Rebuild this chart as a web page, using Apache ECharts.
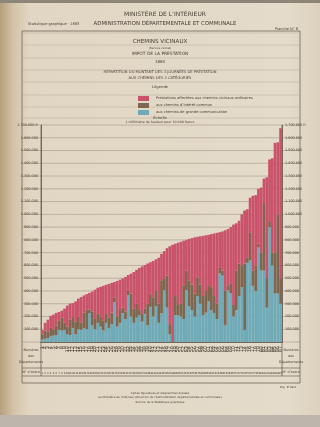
<!DOCTYPE html>
<html>
<head>
<meta charset="utf-8">
<script src="https://cdn.jsdelivr.net/npm/echarts@6/dist/echarts.min.js"></script>
<style>
html, body { margin: 0; padding: 0; background: #e2d8c5; }
#chart { width: 320px; height: 427px; }
</style>
</head>
<body>
<div id="chart"></div>
<script>
// numéros d'ordre des départements (classés par montant total croissant)
const ordres = ['1','2','3','4','5','6','7','8','9','10','11','12','13','14','15','16','17','18','19','20',
  '21','22','23','24','25','26','27','28','29','30','31','32','33','34','35','36','37','38','39','40',
  '41','42','43','44','45','46','47','48','49','50','51','52','53','54','55','56','57','58','59','60',
  '61','62','63','64','65','66','67','68','69','70','71','72','73','74','75','76','77','78','79','80',
  '81','82','83','84','85','86','87'];

// montants en milliers de francs
const grandeCommunication = [20,25,30,45,50,55,95,90,95,60,55,110,60,100,95,110,100,225,130,100,
  150,120,90,150,110,140,312,120,150,225,180,367,200,150,190,210,160,220,130,275,
  200,280,150,225,405,270,60,0,210,210,200,180,405,280,250,200,360,300,210,230,
  320,250,225,180,540,520,130,405,380,200,250,360,430,95,620,640,440,400,740,560,
  560,270,900,600,380,380,300];
const interetCommun = [40,65,50,65,50,75,75,100,55,60,120,85,100,100,55,120,150,30,110,80,
  75,80,80,70,80,90,38,80,100,45,60,33,180,110,110,40,60,40,170,100,
  150,120,150,259,95,250,80,0,150,80,100,265,155,200,200,180,147,150,150,170,
  125,180,135,120,40,40,270,35,80,90,310,255,170,520,40,220,120,200,30,140,
  530,230,40,100,320,620,200];
const vicinauxOrdinaires = [35,60,95,95,115,98,65,55,112,165,125,110,158,140,202,135,125,130,155,230,
  200,232,270,228,265,233,120,278,238,228,270,125,155,288,265,330,372,343,315,250,
  285,248,360,206,212,215,610,762,410,488,485,348,240,328,364,440,317,378,472,436,
  395,415,490,555,280,306,475,445,440,630,370,335,400,415,380,270,585,550,430,510,
  190,790,490,740,860,565,1175];

const axisMax = 1700;
const axisStep = 100;

const legendNames = [
  'Prestations affectées aux chemins vicinaux ordinaires',
  'aux chemins d\u2019intérêt commun',
  'aux chemins de grande communication'
];

const ink = '#4a4136';
const font = 'DejaVu Sans';

function fmt(v) {
  return String(v * 1000).replace(/\B(?=(\d{3})+(?!\d))/g, '.');
}

const chart = echarts.init(document.getElementById('chart'));

function txt(x, y, s, size, align, weight) {
  return {
    type: 'text', x: x, y: y, silent: true,
    style: { text: s, fill: ink, font: (weight || 'normal') + ' ' + size + 'px "' + font + '"',
      textAlign: align || 'center', textVerticalAlign: 'middle' }
  };
}
function line(x1, y1, x2, y2, w, c) {
  return { type: 'line', silent: true, shape: { x1: x1, y1: y1, x2: x2, y2: y2 },
    style: { stroke: c || '#8a7f70', lineWidth: w || 0.5 } };
}

const option = {
  backgroundColor: {
    type: 'linear', x: 0, y: 0, x2: 1, y2: 0,
    colorStops: [
      { offset: 0, color: '#b69f7c' },
      { offset: 0.04, color: '#d2c2a6' },
      { offset: 0.09, color: '#e1d6c3' },
      { offset: 0.9, color: '#e4dbca' },
      { offset: 1, color: '#dcd1bd' }
    ]
  },
  animation: false,
  textStyle: { fontFamily: font },
  grid: { left: 41, right: 38, top: 125, bottom: 85 },
  legend: {
    data: legendNames,
    orient: 'vertical', left: 133, top: 91,
    itemWidth: 11, itemHeight: 5, itemGap: 2, icon: 'rect',
    textStyle: { fontSize: 3.6, color: ink, fontFamily: font, padding: [0, 0, 0, 2] }
  },
  xAxis: [{
    type: 'category', data: ordres,
    axisLine: { lineStyle: { color: '#5a5044', width: 0.8 } },
    axisTick: { show: false },
    axisLabel: { interval: 0, rotate: 90, fontSize: 5, color: ink, margin: 4 }
  }, {
    type: 'category', data: ordres, position: 'bottom', offset: 28,
    axisLine: { show: false }, axisTick: { show: false },
    axisLabel: { interval: 0, fontSize: 2.6, color: ink, margin: 2 }
  }],
  yAxis: [{
    type: 'value', min: 0, max: axisMax, interval: axisStep,
    axisLine: { show: true, lineStyle: { color: '#5a5044', width: 0.7 } },
    axisTick: { show: false }, splitLine: { show: false },
    axisLabel: { fontSize: 3.4, color: ink, margin: 3,
      formatter: v => v === 0 ? '' : (v === axisMax ? fmt(v) + ' fr' : fmt(v)) }
  }, {
    type: 'value', min: 0, max: axisMax, interval: axisStep, position: 'right',
    axisLine: { show: true, lineStyle: { color: '#5a5044', width: 0.7 } },
    axisTick: { show: false }, splitLine: { show: false },
    axisLabel: { fontSize: 3.4, color: ink, margin: 3,
      formatter: v => v === 0 ? '' : (v === axisMax ? fmt(v) + ' fr' : fmt(v)) }
  }],
  series: [{
    name: legendNames[2], type: 'bar', stack: 'total', data: grandeCommunication,
    barCategoryGap: '0%', itemStyle: { color: '#6eaab7' }
  }, {
    name: legendNames[1], type: 'bar', stack: 'total', data: interetCommun,
    barCategoryGap: '0%', itemStyle: { color: '#7e6650' }
  }, {
    name: legendNames[0], type: 'bar', stack: 'total', data: vicinauxOrdinaires,
    barCategoryGap: '0%', itemStyle: { color: '#ca536c' }
  }]
};

chart.setOption(option);

// filets de la planche
const g = [];
g.push({ type: 'rect', silent: true, z: -1, shape: { x: 0, y: 415, width: 320, height: 12 },
  style: { fill: '#bcb6ad' } });
g.push({ type: 'rect', silent: true, z: -1, shape: { x: 0, y: 0, width: 320, height: 3 },
  style: { fill: '#8d8577' } });
g.push({ type: 'rect', silent: true, shape: { x: 22, y: 31, width: 278, height: 352 },
  style: { fill: 'none', stroke: '#6e6558', lineWidth: 0.8 } });

[33, 45, 58, 70, 82, 95, 107, 118].forEach(y => g.push(line(22, y, 300, y, 0.4, '#a89e8e')));
for (let v = 0; v <= axisMax; v += axisStep) {
  const y = chart.convertToPixel({ yAxisIndex: 0 }, v);
  g.push(line(22, y, 300, y, 0.5, '#968b7b'));
}
const xl = chart.convertToPixel({ gridIndex: 0 }, [0, 0]);
const bottom = xl[1];
g.push(line(22, bottom + 26, 300, bottom + 26, 0.6, '#5a5044'));
g.push(line(22, bottom + 34, 300, bottom + 34, 0.6, '#5a5044'));
g.push(line(41, 125, 41, bottom + 34, 0.7, '#5a5044'));
g.push(line(282, 125, 282, bottom + 34, 0.7, '#5a5044'));

g.push(txt(165, 14, 'MINISTÈRE DE L\u2019INTÉRIEUR', 6));
g.push(txt(165, 24, 'ADMINISTRATION DÉPARTEMENTALE ET COMMUNALE', 5.4));
g.push(txt(28, 24, 'Statistique graphique \u00b7 1883', 3.6, 'left'));
g.push(txt(298, 29, 'Planche N° 8', 3.6, 'right'));
g.push(txt(160, 42, 'CHEMINS VICINAUX', 5.6));
g.push(txt(160, 48, '(Service vicinal)', 2.8));
g.push(txt(160, 54, 'IMPÔT DE LA PRESTATION', 4.4));
g.push(txt(160, 61.5, '1880', 4));
g.push(txt(160, 72.5, 'RÉPARTITION DU MONTANT DES 3 JOURNÉES DE PRESTATION', 3.7));
g.push(txt(160, 78.5, 'AUX CHEMINS DES 3 CATÉGORIES', 3.7));
g.push(txt(160, 87.5, 'Légende', 3.8));
g.push(txt(160, 118, 'Échelle', 3.8));
g.push(txt(160, 122.5, '1 millimètre de hauteur pour 10.000 francs', 3.2));

['Numéros', 'des', 'Départements'].forEach((s, i) => {
  g.push(txt(31, bottom + 8 + i * 6, s, 3.4));
  g.push(txt(291, bottom + 8 + i * 6, s, 3.4));
});
g.push(txt(31, bottom + 30, 'N° d\u2019ordre', 3.4));
g.push(txt(291, bottom + 30, 'N° d\u2019ordre', 3.4));
g.push(txt(296, 387, 'Imp. Erhard', 2.8, 'right'));
g.push(txt(160, 393, 'Cartes figuratives et diagrammes dressés', 2.8));
g.push(txt(160, 397.5, 'au Ministère de l\u2019Intérieur (Direction de l\u2019Administration départementale et communale)', 2.8));
g.push(txt(160, 402, 'Service de la Statistique graphique', 2.8));

chart.setOption({ graphic: g });
</script>
</body>
</html>
